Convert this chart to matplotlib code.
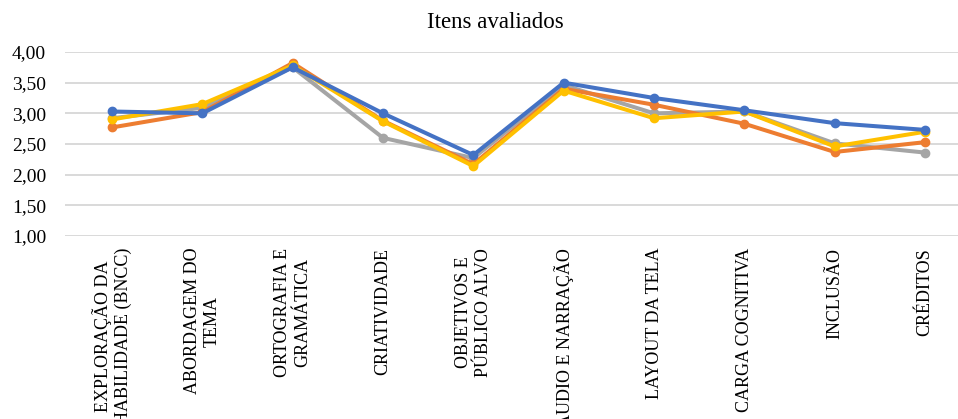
import matplotlib
matplotlib.use("Agg")
import matplotlib.pyplot as plt

# itens avaliados (eixo x)
categorias = [
    "EXPLORAÇÃO DA\nHABILIDADE (BNCC)",
    "ABORDAGEM DO\nTEMA",
    "ORTOGRAFIA E\nGRAMÁTICA",
    "CRIATIVIDADE",
    "OBJETIVOS E\nPÚBLICO ALVO",
    "ÁUDIO E NARRAÇÃO",
    "LAYOUT DA TELA",
    "CARGA COGNITIVA",
    "INCLUSÃO",
    "CRÉDITOS",
]

serie_azul = [3.03, 3.00, 3.75, 3.00, 2.32, 3.50, 3.25, 3.05, 2.84, 2.73]
serie_laranja = [2.77, 3.02, 3.82, 2.88, 2.17, 3.40, 3.14, 2.83, 2.37, 2.53]
serie_cinza = [2.92, 3.09, 3.75, 2.60, 2.27, 3.46, 3.00, 3.03, 2.51, 2.36]
serie_amarela = [2.90, 3.15, 3.78, 2.87, 2.14, 3.37, 2.92, 3.03, 2.46, 2.70]

yticks = [1.0, 1.5, 2.0, 2.5, 3.0, 3.5, 4.0]

plt.rcParams["font.family"] = ["Liberation Serif", "DejaVu Serif"]

W, H = 958, 419
fig = plt.figure(figsize=(W / 100, H / 100), dpi=100)
ax = fig.add_axes([65 / W, 1 - 236 / H, (W - 65) / W, 184 / H])

x = list(range(len(categorias)))
series = [
    (serie_cinza, "#A5A5A5"),
    (serie_laranja, "#ED7D31"),
    (serie_amarela, "#FFC000"),
    (serie_azul, "#4472C4"),
]
for i, (vals, cor) in enumerate(series):
    ax.plot(x, vals, color=cor, lw=2.9, marker="o", ms=6,
            solid_capstyle="round", solid_joinstyle="round", zorder=3 + i)

ax.set_ylim(1.0, 4.0)
ax.set_xlim(-0.52, 9.365)
ax.set_yticks(yticks)
ax.set_yticklabels([f"{v:.2f}".replace(".", ",") for v in yticks], fontsize=14)
ax.yaxis.grid(True, color="#D9D9D9", lw=1.4, zorder=0)
ax.set_axisbelow(True)
for s in ax.spines.values():
    s.set_visible(False)
ax.tick_params(axis="y", length=0, pad=13.5)
ax.tick_params(axis="x", length=0, pad=8.5)

ax.set_xticks(x)
ax.set_xticklabels(categorias, rotation=90, fontsize=13, ha="center", va="top",
                   multialignment="center", linespacing=1.2)

fig.text(495 / W, 1 - 22 / H, "Itens avaliados", fontsize=16.5,
         ha="center", va="center")

plt.savefig("out.png", dpi=100)
